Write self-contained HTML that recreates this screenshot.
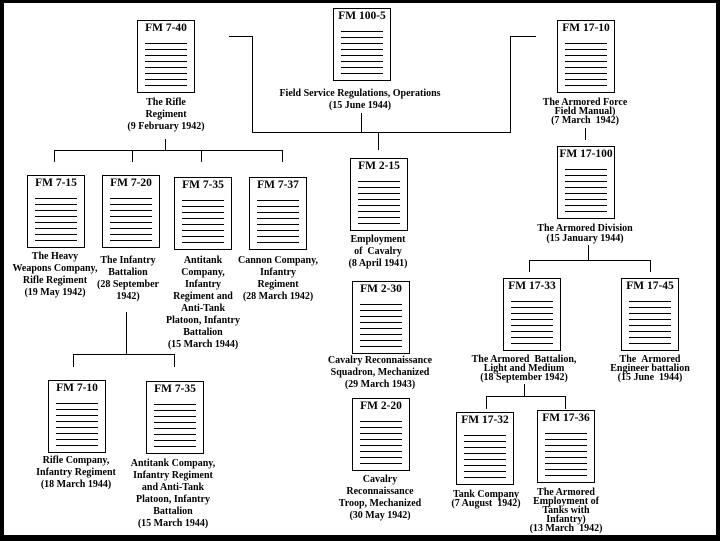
<!DOCTYPE html>
<html><head><meta charset="utf-8"><style>
html,body{margin:0;padding:0;}
body{width:720px;height:541px;position:relative;overflow:hidden;background:#000;}
#c{position:absolute;left:4px;top:3px;width:712px;height:532px;background:#fff;}
.d{position:absolute;width:56px;height:71px;border:1px solid #000;background:#fff;font-family:"Liberation Serif",serif;font-weight:bold;font-size:11.5px;text-align:center;line-height:14px;}
.d:after{content:"";position:absolute;left:7px;width:42px;top:22px;height:43px;background:repeating-linear-gradient(to bottom,#000 0,#000 1px,transparent 1px,transparent 6px);}
.t{position:absolute;font-family:"Liberation Serif",serif;font-weight:bold;font-size:10px;line-height:12px;text-align:center;white-space:nowrap;transform:translateX(-50%);}
.tt{line-height:9px;}
.h{position:absolute;height:1px;background:#000;}
.v{position:absolute;width:1px;background:#000;}
</style></head><body>
<div id="c"></div>
<div class="h" style="left:229px;top:36px;width:24px"></div>
<div class="v" style="left:252px;top:36px;height:97px"></div>
<div class="h" style="left:252px;top:132px;width:259px"></div>
<div class="v" style="left:510px;top:36px;height:97px"></div>
<div class="h" style="left:510px;top:36px;width:26px"></div>
<div class="v" style="left:361px;top:113px;height:20px"></div>
<div class="v" style="left:378px;top:132px;height:18px"></div>

<div class="v" style="left:165px;top:139px;height:12px"></div>
<div class="h" style="left:54px;top:150px;width:229px"></div>
<div class="v" style="left:54px;top:150px;height:12px"></div>
<div class="v" style="left:132px;top:150px;height:12px"></div>
<div class="v" style="left:201px;top:150px;height:12px"></div>
<div class="v" style="left:282px;top:150px;height:12px"></div>

<div class="v" style="left:126px;top:312px;height:43px"></div>
<div class="h" style="left:73px;top:354px;width:102px"></div>
<div class="v" style="left:73px;top:354px;height:13px"></div>
<div class="v" style="left:174px;top:354px;height:13px"></div>

<div class="v" style="left:585px;top:128px;height:12px"></div>
<div class="v" style="left:588px;top:245px;height:15px"></div>
<div class="h" style="left:529px;top:260px;width:122px"></div>
<div class="v" style="left:529px;top:260px;height:12px"></div>
<div class="v" style="left:650px;top:260px;height:12px"></div>

<div class="v" style="left:524px;top:384px;height:13px"></div>
<div class="h" style="left:486px;top:396px;width:80px"></div>
<div class="v" style="left:486px;top:396px;height:13px"></div>
<div class="v" style="left:565px;top:396px;height:13px"></div>

<div class="d" style="left:137px;top:20px">FM 7-40</div>
<div class="t" style="left:166px;top:97px">The Rifle<br>Regiment<br>(9 February 1942)</div>

<div class="d" style="left:333px;top:8px">FM 100-5</div>
<div class="t" style="left:360px;top:88px">Field Service Regulations, Operations<br>(15 June 1944)</div>

<div class="d" style="left:557px;top:20px">FM 17-10</div>
<div class="t tt" style="left:585px;top:98px">The Armored Force<br>Field Manual)<br>(7 March &nbsp;1942)</div>

<div class="d" style="left:27px;top:175px">FM 7-15</div>
<div class="t" style="left:55px;top:251px">The Heavy<br>Weapons Company,<br>Rifle Regiment<br>(19 May 1942)</div>

<div class="d" style="left:102px;top:175px">FM 7-20</div>
<div class="t" style="left:128px;top:255px">The Infantry<br>Battalion<br>(28 September<br>1942)</div>

<div class="d" style="left:174px;top:177px">FM 7-35</div>
<div class="t" style="left:203px;top:255px">Antitank<br>Company,<br>Infantry<br>Regiment and<br>Anti-Tank<br>Platoon, Infantry<br>Battalion<br>(15 March 1944)</div>

<div class="d" style="left:249px;top:177px">FM 7-37</div>
<div class="t" style="left:278px;top:255px">Cannon Company,<br>Infantry<br>Regiment<br>(28 March 1942)</div>

<div class="d" style="left:350px;top:158px">FM 2-15</div>
<div class="t" style="left:378px;top:234px">Employment<br>of &nbsp;Cavalry<br>(8 April 1941)</div>

<div class="d" style="left:557px;top:146px">FM 17-100</div>
<div class="t tt" style="left:585px;top:224px;line-height:10px">The Armored Division<br>(15 January 1944)</div>

<div class="d" style="left:352px;top:281px">FM 2-30</div>
<div class="t" style="left:380px;top:355px">Cavalry Reconnaissance<br>Squadron, Mechanized<br>(29 March 1943)</div>

<div class="d" style="left:352px;top:398px">FM 2-20</div>
<div class="t" style="left:380px;top:474px">Cavalry<br>Reconnaissance<br>Troop, Mechanized<br>(30 May 1942)</div>

<div class="d" style="left:503px;top:278px">FM 17-33</div>
<div class="t tt" style="left:524px;top:355px">The Armored &nbsp;Battalion,<br>Light and Medium<br>(18 September 1942)</div>

<div class="d" style="left:621px;top:278px">FM 17-45</div>
<div class="t tt" style="left:650px;top:355px">The &nbsp;Armored<br>Engineer battalion<br>(15 June &nbsp;1944)</div>

<div class="d" style="left:48px;top:380px">FM 7-10</div>
<div class="t" style="left:76px;top:455px">Rifle Company,<br>Infantry Regiment<br>(18 March 1944)</div>

<div class="d" style="left:146px;top:381px">FM 7-35</div>
<div class="t" style="left:173px;top:458px">Antitank Company,<br>Infantry Regiment<br>and Anti-Tank<br>Platoon, Infantry<br>Battalion<br>(15 March 1944)</div>

<div class="d" style="left:456px;top:412px">FM 17-32</div>
<div class="t tt" style="left:486px;top:490px">Tank Company<br>(7 August &nbsp;1942)</div>

<div class="d" style="left:537px;top:410px">FM 17-36</div>
<div class="t tt" style="left:566px;top:488px">The Armored<br>Employment of<br>Tanks with<br>Infantry)<br>(13 March &nbsp;1942)</div>
</body></html>
